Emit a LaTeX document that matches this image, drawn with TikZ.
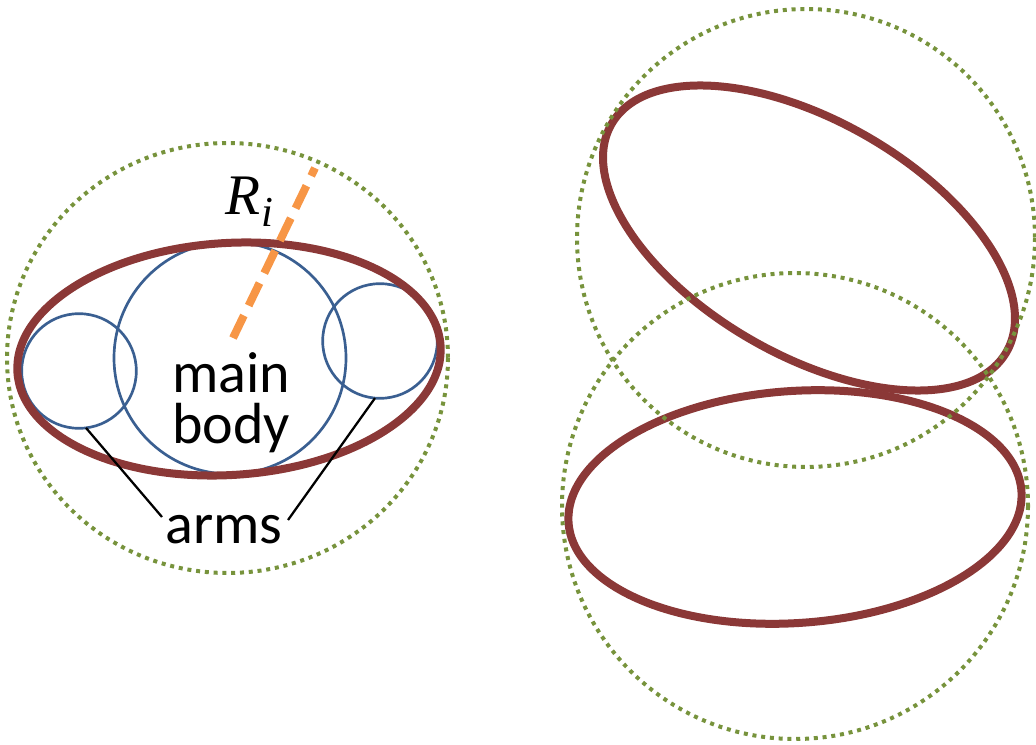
\documentclass[tikz,border=0pt]{standalone}
\usepackage{fontspec}
\setmainfont{Carlito}
\newfontfamily\rifont{Liberation Serif}
\definecolor{ringred}{RGB}{139,56,55}
\definecolor{dotgreen}{RGB}{119,147,60}
\definecolor{bodyblue}{RGB}{58,95,145}
\definecolor{radorange}{RGB}{247,150,70}
\tikzset{
  ring/.style={draw=ringred, line width=6pt},
  envelope/.style={draw=dotgreen, line width=3pt, dash pattern=on 3pt off 3.6pt},
  part/.style={circle, draw=bodyblue, line width=2pt, inner sep=0pt, outer sep=0pt},
  radius line/.style={draw=radorange, line width=6pt, dash pattern=on 18.75pt off 8.25pt},
  conn/.style={draw=black, line width=1.7pt},
  label/.style={inner sep=0pt, font=\fontsize{43.5}{38}\selectfont}
}
\begin{document}
\begin{tikzpicture}[x=0.75pt, y=-0.75pt]
\useasboundingbox (0,0) rectangle (1036,745);
% ---------- left figure ----------
\node[part, minimum size=174pt] (main) at (230,358) {};
\node[part, minimum size=86pt] (larm) at (79,371) {};
\node[part, minimum size=86pt] (rarm) at (380,341) {};
\draw[ring, shift={(229,359)}, rotate=3.6] (0,0) ellipse [x radius=212, y radius=116];
\coordinate (rstart) at (233,338);
\coordinate (rend) at (315,168);
\draw[radius line] (rstart) -- (rend);
\draw[envelope] (227.5,358) ellipse [x radius=220.5, y radius=215];
\node[label, anchor=base west] (ri) at (225,215) {\rifont\itshape\fontsize{43}{43}\selectfont R\kern1pt\raisebox{-9pt}{\fontsize{32}{32}\selectfont i}};
\node[label, align=center, anchor=base] (mb) at (231,443) {main\\body};
\node[label, anchor=base] (arms) at (224,543) {arms};
\coordinate (al) at (162,517);
\coordinate (ar) at (288,520);
\draw[conn] (larm.-83) -- (al);
\draw[conn] (rarm.-95) -- (ar);
% ---------- right figure ----------
\draw[ring, shift={(809,238)}, rotate=-30] (0,0) ellipse [x radius=228, y radius=117];
\draw[ring, shift={(795,507)}, rotate=4] (0,0) ellipse [x radius=227, y radius=116];
\draw[envelope] (806,238) circle [radius=229];
\draw[envelope] (795,506) circle [radius=233];
\end{tikzpicture}
\end{document}
